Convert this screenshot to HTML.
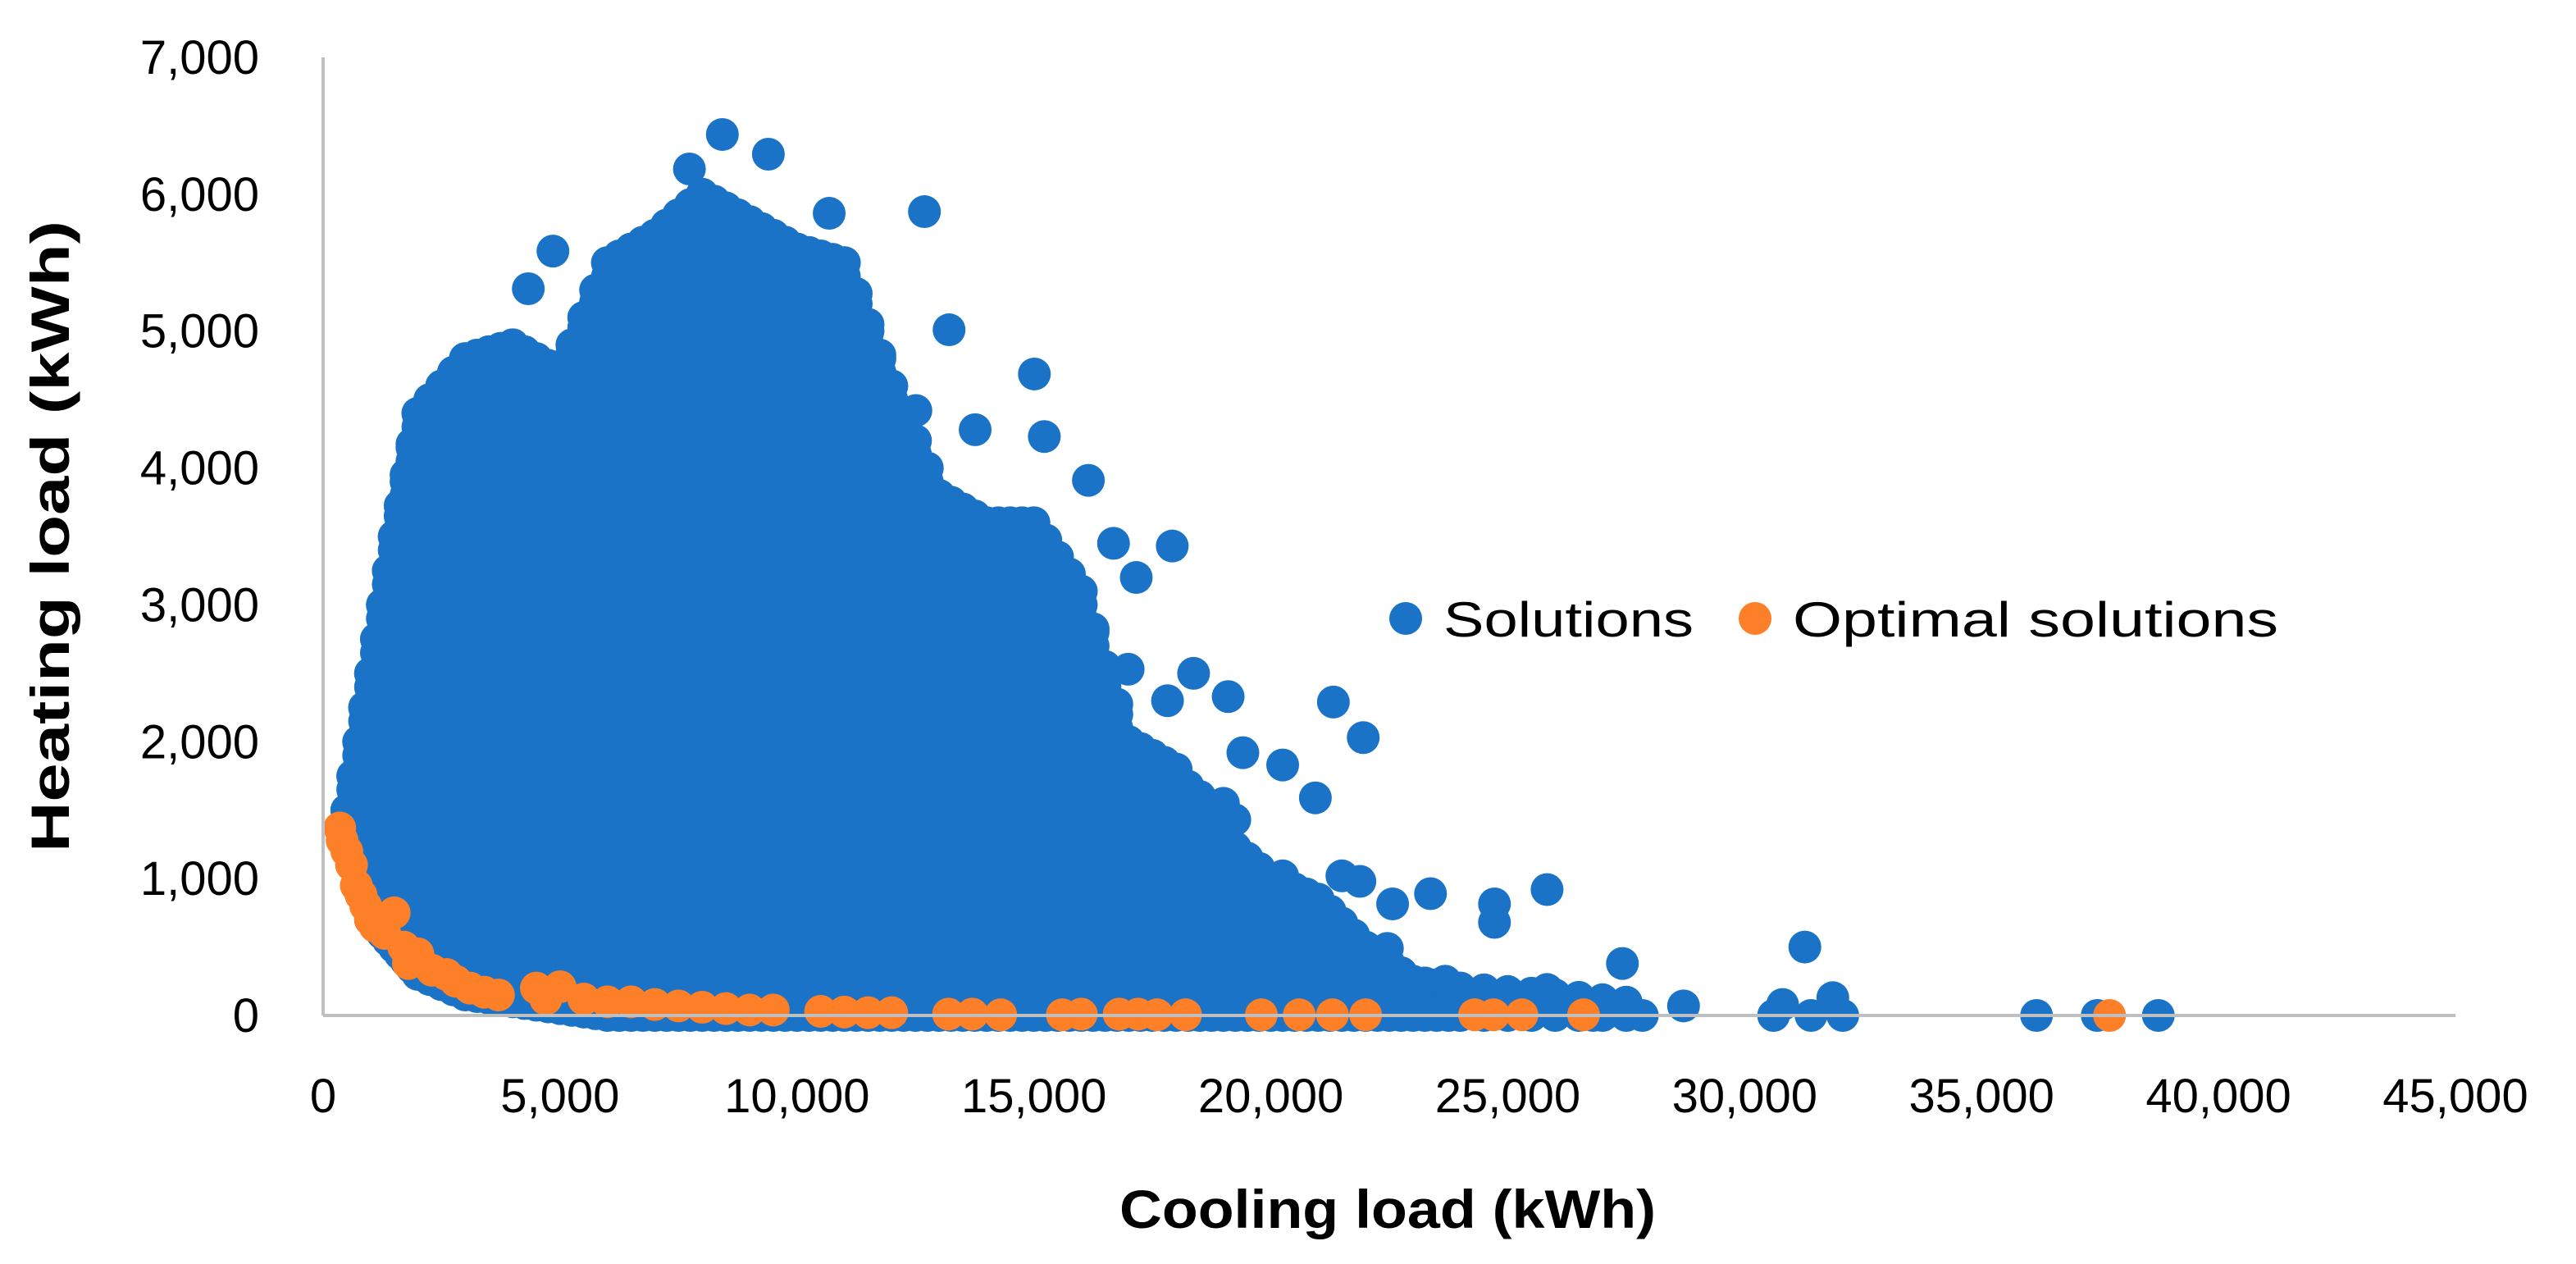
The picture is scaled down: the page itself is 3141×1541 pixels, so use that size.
<!DOCTYPE html>
<html><head><meta charset="utf-8"><style>
html,body{margin:0;padding:0;background:#fff;}
svg{display:block;font-family:"Liberation Sans",sans-serif;}
</style></head><body>
<svg id="chart" width="3141" height="1541" viewBox="0 0 3141 1541">
<g id="marks"></g>
<g id="axes"></g>
</svg>
<script>
// data
const xTicks = [0,5000,10000,15000,20000,25000,30000,35000,40000,45000];
const yTicks = [0,1000,2000,3000,4000,5000,6000,7000];
// dense cloud envelope columns: [cooling, minHeating, maxHeating]
const cloudCols = [[500,1300,1500],[1000,700,2500],[1500,500,3500],[2000,300,4400],[3000,150,4800],[4000,100,4900],[5000,50,4700],[6000,0,5500],[7000,0,5700],[8000,0,6000],[9000,0,5800],[10000,0,5600],[11000,0,5500],[12000,0,4600],[13000,0,3800],[14000,0,3600],[15000,0,3600],[16000,0,3100],[17000,0,2000],[18000,0,1800],[19000,0,1300],[20000,0,1000],[21000,0,850],[22000,0,500],[23000,0,250],[24000,0,200],[26000,0,150],[28000,0,80]];
const solX = [8425,9396,7730,12690,10680,4850,4330,13210,15010,12510,13760,15220,16150,16680,17920,17160,16990,18370,19100,17820,21320,21950,20250,19410,20940,19000,19240,20250,21500,21880,23370,24720,25830,22570,24720,22460,27420,31270,31860,25830,23680,28710,30610,32070,36160,37440,38730,27840,26800,31400,30800,14500,15000,16500,17500,18500,18000];
const solY = [6437,6293,6185,5873,5861,5585,5310,5010,4687,4420,4280,4230,3910,3450,3430,3200,2530,2500,2330,2300,2290,2030,1830,1920,1590,1550,1430,1020,1020,980,890,815,920,815,680,490,380,500,130,190,250,70,0,0,0,0,0,0,0,0,80,2450,2700,2300,1900,1600,1300];
const optX = [350,400,500,600,700,800,900,1000,1100,1500,1300,1700,2000,1800,2300,2600,2800,3100,3400,3700,4500,5000,4700,5500,6000,6500,7000,7500,8000,8500,9000,9500,10500,11000,11500,12000,13200,13700,14300,15600,16000,16800,17200,17600,18200,19800,20600,21300,22000,24300,24700,25300,26600,37700];
const optY = [1370,1280,1200,1100,950,880,800,700,650,750,600,500,450,380,330,300,250,200,170,150,200,210,120,120,100,100,80,70,60,50,40,40,30,25,20,20,10,10,5,5,10,10,10,5,5,5,5,5,5,5,5,5,5,0];

const X0=394, X1=2994, Y0=1238, Y1=70;
const sx = v => X0 + v/45000*(X1-X0);
const sy = v => Y0 - v/7000*(Y0-Y1);
const NS="http://www.w3.org/2000/svg";
const marks=document.getElementById('marks'), axes=document.getElementById('axes');
function mk(tag, attrs, parent){const e=document.createElementNS(NS,tag);for(const k in attrs)e.setAttribute(k,attrs[k]);parent.appendChild(e);return e;}
const BLUE="#1a73c6", ORANGE="#fd7f27", R=20;

let a=mk('line',{x1:X0,y1:Y1,x2:X0,y2:Y0,stroke:'#bfbfbf','stroke-width':4},axes);


a=mk('line',{x1:X0,y1:Y0,x2:X1,y2:Y0,stroke:'#bfbfbf','stroke-width':4},axes);



const cloud=mk('g',{},marks);


for(let i=0;i<cloudCols.length-1;i++){
  const [xa,la,ha]=cloudCols[i],[xb,lb,hb]=cloudCols[i+1];
  for(let t=0;t<1;t+=0.25){
    const x=xa+(xb-xa)*t, lo=la+(lb-la)*t, hi=ha+(hb-ha)*t;
    for(let y=lo;y<=hi;y+=100){
      mk('circle',{cx:sx(x),cy:sy(y),r:R,fill:BLUE},cloud);
    }
    mk('circle',{cx:sx(x),cy:sy(hi),r:R,fill:BLUE},cloud);
  }
}
solX.forEach((x,i)=>{
  const c=mk('circle',{cx:sx(x),cy:sy(solY[i]),r:R,fill:BLUE},marks);
  
  
});
optX.forEach((x,i)=>{
  const c=mk('circle',{cx:sx(x),cy:sy(optY[i]),r:R,fill:ORANGE},marks);
  
  
});

xTicks.forEach(v=>{
  const t=mk('text',{x:sx(v),y:1356,'font-size':58,'text-anchor':'middle',fill:'#000'},axes);
  t.textContent=v.toLocaleString('en-US');
  
  
});
yTicks.forEach(v=>{
  const t=mk('text',{x:316,y:sy(v)+20,'font-size':58,'text-anchor':'end',fill:'#000'},axes);
  t.textContent=v.toLocaleString('en-US');
  
  
});
let t=mk('text',{x:1692,y:1497,'font-size':66,'font-weight':'bold','text-anchor':'middle',textLength:654,lengthAdjust:'spacingAndGlyphs'},axes);
t.textContent='Cooling load (kWh)';


t=mk('text',{x:0,y:0,'font-size':66,'font-weight':'bold','text-anchor':'middle',textLength:770,lengthAdjust:'spacingAndGlyphs',transform:'translate(84,654) rotate(-90)'},axes);
t.textContent='Heating load (kWh)';


const lg=mk('g',{},axes);


let d=mk('circle',{cx:1714,cy:754,r:20,fill:BLUE},lg);


t=mk('text',{x:1760,y:776,'font-size':60,textLength:305,lengthAdjust:'spacingAndGlyphs'},lg);
t.textContent='Solutions';


d=mk('circle',{cx:2140,cy:754,r:20,fill:ORANGE},lg);


t=mk('text',{x:2186,y:776,'font-size':60,textLength:592,lengthAdjust:'spacingAndGlyphs'},lg);
t.textContent='Optimal solutions';


</script>
</body></html>
